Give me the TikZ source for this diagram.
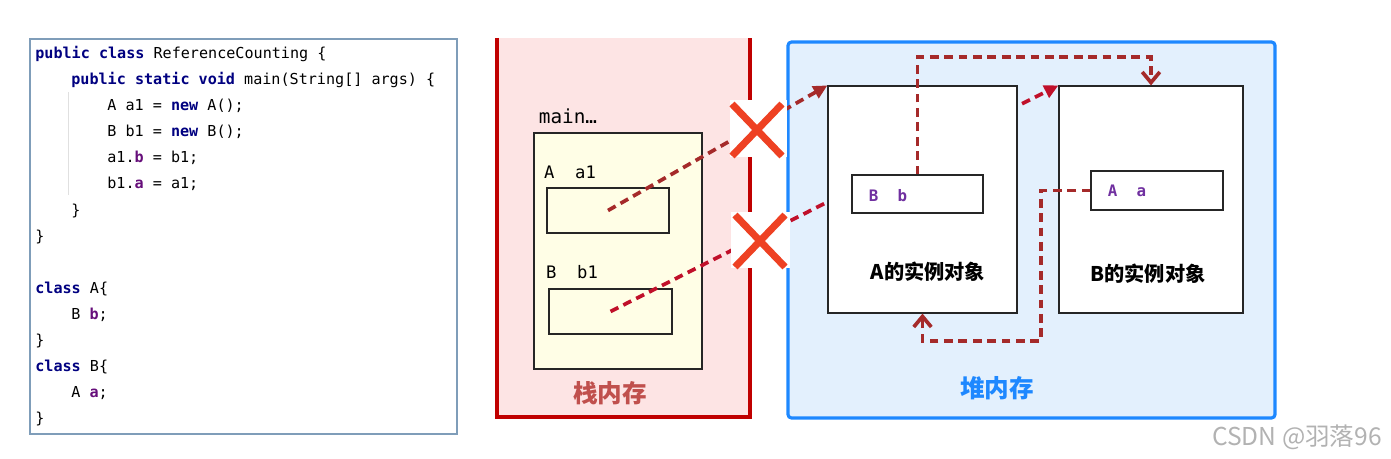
\documentclass[tikz,border=0pt]{standalone}
\usepackage{fontspec}
\setmonofont{DejaVu Sans Mono}
\newfontfamily\cjk{Noto Sans CJK SC}
\usetikzlibrary{arrows.meta, calc, shapes.misc}
\definecolor{codeborder}{HTML}{7F9DB9}
\definecolor{kwblue}{HTML}{000080}
\definecolor{fieldpurple}{HTML}{660E7A}
\definecolor{objpurple}{HTML}{7030A0}
\definecolor{stackred}{HTML}{C00000}
\definecolor{stackbg}{HTML}{FDE4E4}
\definecolor{stacktext}{HTML}{C0504D}
\definecolor{heapblue}{HTML}{1E88FF}
\definecolor{heapbg}{HTML}{E3F0FD}
\definecolor{framebg}{HTML}{FFFEE6}
\definecolor{refbrown}{HTML}{A52A2A}
\definecolor{refred}{HTML}{C0102A}
\definecolor{crossred}{HTML}{EE4123}
\newcommand\kw[1]{\textcolor{kwblue}{\bfseries #1}}
\newcommand\fld[1]{\textcolor{fieldpurple}{\bfseries #1}}
\tikzset{
  % griglia in pixel
  px/.style={x=0.02cm, y=-0.02cm},
  % righe del codice
  codeline/.style={font=\fontsize{8.6}{10}\ttfamily, inner sep=0pt, anchor=base west},
  % riquadri
  box/.style={draw=black!85, line width=0.7pt, inner sep=0pt},
  objbox/.style={box, fill=white},
  slot/.style={box, fill=framebg},
  % testi
  mainlbl/.style={font=\fontsize{11}{13}\ttfamily, inner sep=0pt},
  varname/.style={font=\fontsize{9.8}{11}\ttfamily, inner sep=0pt},
  objfield/.style={font=\fontsize{9}{11}\ttfamily\bfseries, text=objpurple, inner sep=0pt},
  objlbl/.style={font=\fontsize{11.5}{14}\selectfont\cjk\bfseries, inner sep=0pt},
  arealbl/.style={font=\fontsize{14}{16}\selectfont\cjk\bfseries, inner sep=0pt},
  watermark/.style={font=\fontsize{14}{16}\selectfont\cjk, text=black!30, inner sep=0pt},
  % riferimenti tratteggiati
  ref/.style={line width=2.1pt, dash pattern=on 5pt off 3.2pt},
  reftip/.style={ref, -{Triangle[length=8pt, width=7.5pt]}},
  looptip/.style={ref, refbrown, -{Straight Barb[length=6pt, width=10pt]}},
  % croce di riferimento rimosso
  crossbg/.style={fill=white, inner sep=0pt},
  crossmark/.style={cross out, draw=crossred, line width=4pt, inner sep=0pt,
    minimum width=0.86cm, minimum height=0.9cm},
}
\begin{document}
\begin{tikzpicture}[px]
  \useasboundingbox (0,0) rectangle (1391,459);
  \draw[codeborder, line width=0.8pt] (30,39) rectangle (457,434);
  \draw[black!12, line width=0.5pt] (68,92) -- (68,195);
  \foreach \y/\x/\t [count=\i] in {59/35/{\kw{public class} ReferenceCounting \{},
    85/71/{\kw{public static void} main(String[] args) \{},
    111/107/{A a1 = \kw{new} A();}, 137/107/{B b1 = \kw{new} B();},
    163/107/{a1.\fld{b} = b1;}, 189/107/{b1.\fld{a} = a1;},
    215/71/{\}}, 241/35/{\}}, 293/35/{\kw{class} A\{}, 319/71/{B \fld{b};},
    345/35/{\}}, 371/35/{\kw{class} B\{}, 397/71/{A \fld{a};}, 423/35/{\}}}
    \node[codeline] (code\i) at (\x,\y) {\t};
  \fill[stackbg] (497,38) rectangle (750,417);
  \draw[stackred, line width=1.8pt] (497,38) -- (497,417) -- (750,417) -- (750,38);
  \draw[heapblue, fill=heapbg, line width=1.8pt, rounded corners=2pt] (788,42) rectangle (1275,418);
  \node[mainlbl] (mainname) at (568,116) {main…};
  \node[slot, minimum width=3.36cm, minimum height=4.72cm] (mainframe) at (618,251) {};
  \node[varname] (a1name) at (570,172) {A~~a1};
  \node[slot, minimum width=2.44cm, minimum height=0.9cm] (a1box) at (608,210.5) {};
  \node[varname] (b1name) at (572,272) {B~~b1};
  \node[slot, minimum width=2.46cm, minimum height=0.9cm] (b1box) at (610.5,311.5) {};
  \node[objbox, minimum width=3.68cm, minimum height=4.54cm] (bobj) at (1151,199.5) {};
  \draw[reftip, refred] (b1box.center) -- (bobj.north west);
  \node[objbox, minimum width=3.78cm, minimum height=4.54cm] (aobj) at (922.5,199.5) {};
  \draw[reftip, refbrown] (a1box.center) -- (aobj.north west);
  \node[crossbg, minimum width=1.14cm, minimum height=1.14cm] (crossA) at (758.5,128.5) {};
  \node[crossmark] (xA) at (757,130) {};
  \node[crossbg, minimum width=1.18cm, minimum height=1.12cm] (crossB) at (760.5,240) {};
  \node[crossmark] (xB) at (760,241) {};
  \node[objbox, minimum width=2.62cm, minimum height=0.76cm] (bfield) at (917.5,194) {};
  \node[objfield] (bfieldname) at (888,196) {B~~b};
  \node[objbox, minimum width=2.64cm, minimum height=0.78cm] (afield) at (1157,190.5) {};
  \node[objfield] (afieldname) at (1127,191) {A~~a};
  \node[objlbl] (alabel) at (928,272) {A的实例对象};
  \node[objlbl] (blabel) at (1148,274) {B的实例对象};
  \coordinate (toploop) at (1151,57);
  \coordinate (botloop) at (1041,341);
  \draw[looptip] (bfield.north) |- (toploop) -- (bobj.north);
  \draw[looptip] (afield.west) -| (botloop) -| (aobj.south);
  \node[arealbl, text=stacktext] (stacklbl) at (610,393) {栈内存};
  \node[arealbl, text=heapblue] (heaplbl) at (997,388) {堆内存};
  \node[watermark] (wm) at (1297,437) {CSDN @羽落96};
\end{tikzpicture}
\end{document}
